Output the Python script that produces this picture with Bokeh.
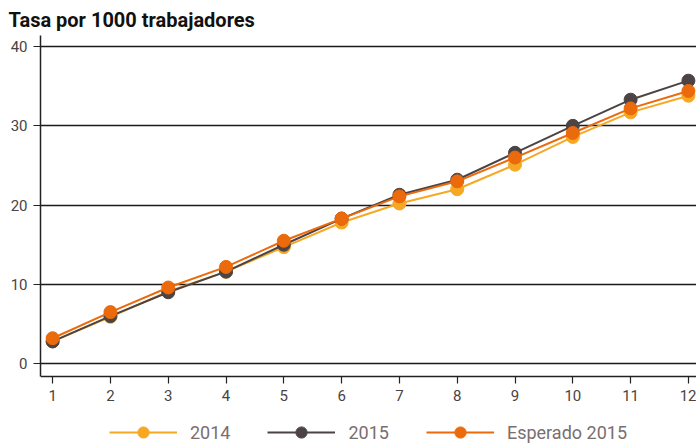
from bokeh.plotting import figure
from bokeh.models import Range1d, Legend, LegendItem, FixedTicker
from bokeh.embed import file_html
from bokeh.resources import INLINE

months = [1, 2, 3, 4, 5, 6, 7, 8, 9, 10, 11, 12]
rate_2014 = [2.8, 5.9, 9.1, 11.6, 14.7, 17.8, 20.2, 22.0, 25.1, 28.6, 31.7, 33.8]
rate_2015 = [2.8, 6.0, 9.0, 11.6, 15.0, 18.3, 21.3, 23.2, 26.6, 30.0, 33.3, 35.7]
rate_expected = [3.2, 6.5, 9.6, 12.2, 15.5, 18.3, 21.1, 23.0, 26.0, 29.1, 32.2, 34.4]
y_ticks = [0, 10, 20, 30, 40]
series_names = ["2014", "2015", "Esperado 2015"]
colors = ["#F7A823", "#4B4344", "#EA6A0C"]

Y_AXIS_START = -1.64
Y_TOP = 41.4

p = figure(frame_width=656, frame_height=411, output_backend="svg", toolbar_location=None,
           x_range=Range1d(0.79, 12.14), y_range=Range1d(-10.46, Y_TOP),
           min_border_left=40, min_border_right=0, min_border_top=35,
           min_border_bottom=0)
p.outline_line_color = None
p.background_fill_color = "white"

p.title.text = "Tasa por 1000 trabajadores"
p.title.text_font = "Roboto"
p.title.text_font_size = "20px"
p.title.text_font_style = "bold"
p.title.text_color = "#111111"
p.title.offset = -32
p.title.standoff = 8

p.xaxis.fixed_location = Y_AXIS_START
p.yaxis.bounds = (Y_AXIS_START, Y_TOP)

for ax in (p.xaxis[0], p.yaxis[0]):
    ax.axis_line_color = "#222222"
    ax.axis_line_width = 1.5
    ax.major_tick_line_color = "#222222"
    ax.major_tick_line_width = 1.2
    ax.major_tick_out = 7
    ax.major_tick_in = 0
    ax.minor_tick_line_color = None
    ax.major_label_text_font = "Roboto"
    ax.major_label_text_font_size = "15px"
    ax.major_label_text_color = "#4a4343"

p.xaxis.ticker = FixedTicker(ticks=months)
p.xaxis.major_label_standoff = 6
p.yaxis.ticker = FixedTicker(ticks=y_ticks)
p.yaxis.major_label_standoff = 6

p.xgrid.grid_line_color = None
p.ygrid.grid_line_color = "#1a1a1a"
p.ygrid.grid_line_width = 1.3

items = []
for name, vals, c in zip(series_names, [rate_2014, rate_2015, rate_expected], colors):
    l = p.line(months, vals, line_color=c, line_width=2)
    s = p.scatter(months, vals, size=13, fill_color=c, line_color=c)
    items.append(LegendItem(label=name, renderers=[l, s]))

legend = Legend(items=items, orientation="horizontal", location="bottom_center",
                glyph_width=68, glyph_height=28, label_standoff=13, spacing=37,
                label_text_font="Roboto", label_text_font_size="18px",
                label_text_color="#7a6e6e", border_line_color=None,
                background_fill_alpha=0, padding=0, margin=0)
p.add_layout(legend, "center")

open("out.html", "w").write(file_html(p, INLINE))
